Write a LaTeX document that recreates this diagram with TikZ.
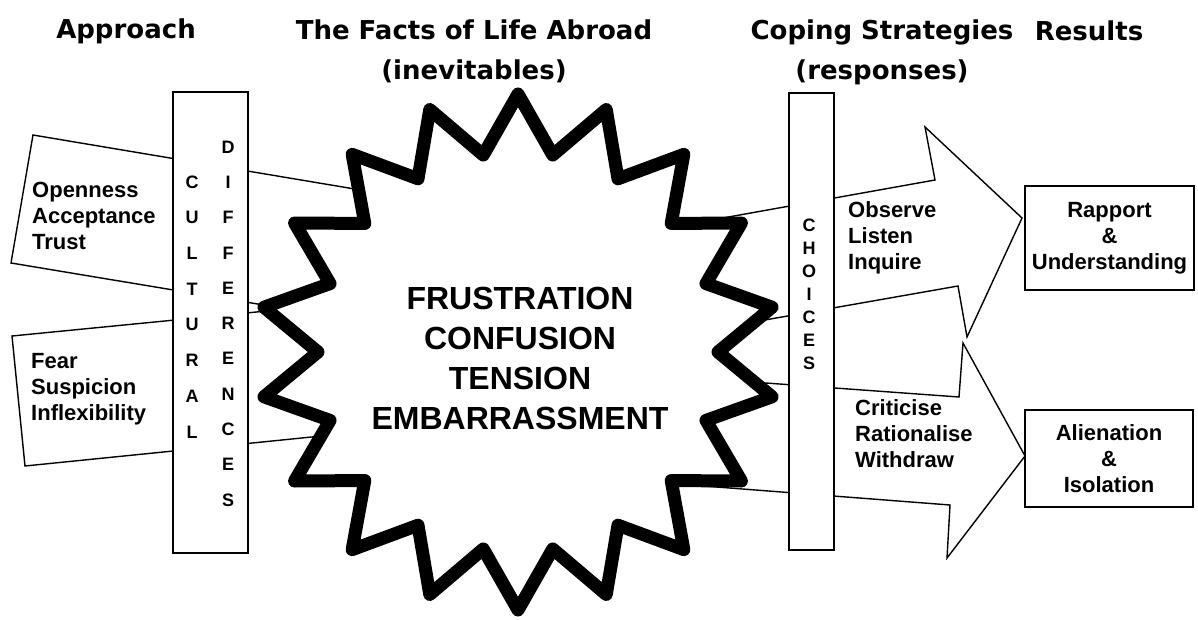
\documentclass[tikz,border=0pt]{standalone}
\usepackage{fontspec}
\setmainfont{Liberation Sans}
\newfontfamily\headfont{DejaVu Sans}
\usepackage{tikz}
\usetikzlibrary{calc}

\begin{document}
\begin{tikzpicture}[x=1pt,y=-1pt,
  head/.style={font=\headfont\bfseries\fontsize{26}{40}\selectfont,align=center,inner sep=0},
  lbl/.style={font=\bfseries\fontsize{22}{26}\selectfont,align=left,anchor=west,inner sep=0},
  res/.style={draw,line width=1.8pt,inner sep=2pt,font=\bfseries\fontsize{22}{26}\selectfont,align=center},
  bar/.style={draw,line width=2pt,fill=white,inner sep=0},
  blk/.style={draw,line width=1.4pt,fill=white,line join=miter},
  vlet/.style={font=\bfseries\fontsize{18}{18}\selectfont,inner sep=0},
  starline/.style={draw,line width=13pt,line join=round,fill=white}]
			\def\cx{518}
			\def\cy{352}
			\def\ro{258}
			\def\ri{200}
			
			\useasboundingbox (0,0) rectangle (1198,620);
			
			\node[head] (approach) at (126,31) {Approach};
			\node[head] (facts) at (474,51) {The Facts of Life Abroad\\(inevitables)};
			\node[head] (coping) at (882,52) {Coping Strategies\\(responses)};
			\node[head] (results) at (1089,31) {Results};
			
			\draw[blk] (33,135)--(450,205)--(450,336)--(11,263)--cycle;
			\draw[blk] (12,336)--(450,293)--(450,423)--(25,466)--cycle;
			
			\draw[blk] (600,371)--(959,397)--(963,343)--(1025,456)--(947,558)--(950,505)--(600,478)--cycle;
			\draw[blk] (600,240)--(935,180)--(925,127)--(1022,218)--(967,337)--(958,286)--(600,349)--cycle;
			
			\draw[starline,shift={(\cx,\cy)}] (90:\ro)
			\foreach \a in {90,110,...,430}{ -- (\a+10:\ri) -- (\a+20:\ro)} -- cycle;
			
			\node[font=\bfseries\fontsize{32}{40}\selectfont,align=center] (woes) at (520,358)
			{FRUSTRATION\\CONFUSION\\TENSION\\EMBARRASSMENT};
			
			\node[bar,minimum width=75pt,minimum height=461pt] (cultural) at (210.5,322.5) {};
			\node[bar,minimum width=45pt,minimum height=457pt] (choices) at (811.5,321.5) {};
			
			\foreach \l [count=\i] in {C,U,L,T,U,R,A,L}
			\node[vlet] (cul\i) at (192,{182+35.7*(\i-1)}) {\l};
			\foreach \l [count=\i] in {D,I,F,F,E,R,E,N,C,E,S}
			\node[vlet] (dif\i) at (228,{147+35.3*(\i-1)}) {\l};
			\foreach \l [count=\i] in {C,H,O,I,C,E,S}
			\node[vlet] (cho\i) at (809,{225+23*(\i-1)}) {\l};
			
			\node[lbl] (open) at (32,216) {Openness\\Acceptance\\Trust};
			\node[lbl] (fear) at (31,389) {Fear\\Suspicion\\Inflexibility};
			\node[lbl] (observe) at (848,238) {Observe\\Listen\\Inquire};
			\node[lbl] (criticise) at (855,434) {Criticise\\Rationalise\\Withdraw};
			
			\node[res,minimum width=169pt,minimum height=104pt] (rapport) at (1109.5,238) {Rapport\\\&\\Understanding};
			\node[res,minimum width=168pt,minimum height=97pt] (alienation) at (1109,458.5) {Alienation\\\&\\Isolation};
		\end{tikzpicture}
\end{document}
